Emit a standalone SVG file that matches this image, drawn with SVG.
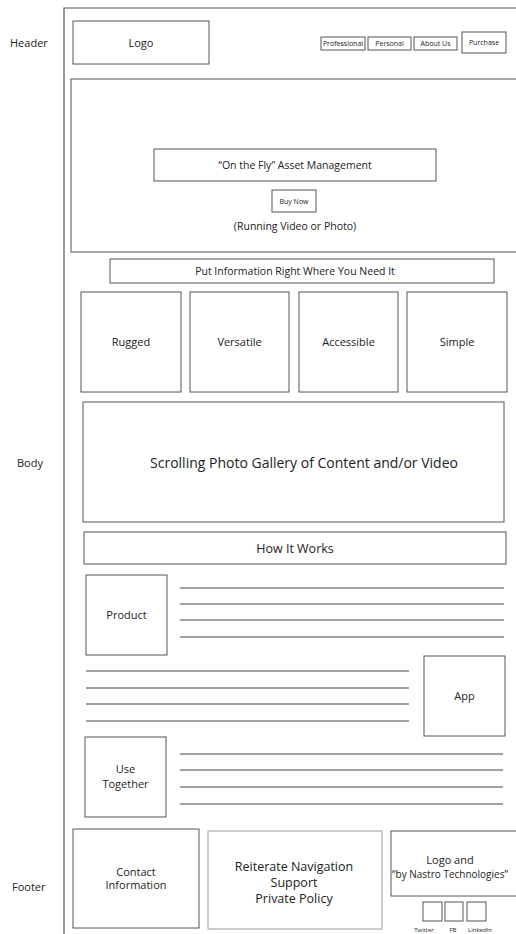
<svg xmlns="http://www.w3.org/2000/svg" width="516" height="934" viewBox="0 0 516 934">
<style>
  .box{fill:#fff;stroke:#555;stroke-width:1}
  .lt{stroke:#999}
  .ln{stroke:#444;stroke-width:1}
  text{font-family:"Open Sans","Liberation Sans",sans-serif;fill:#222;text-anchor:middle}
  .lbl{text-anchor:start;font-size:11px}
  .s12{font-size:11px}
  .s8{font-size:7px}
  .s6{font-size:6px}
</style>
<rect width="516" height="934" fill="#fff"/>
<g id="frame">
  <path d="M64,934 V8 H520" fill="none" stroke="#555" stroke-width="1.2"/>
</g>
<g id="labels">
  <text class="lbl" x="10" y="47">Header</text>
  <text class="lbl" x="17" y="467">Body</text>
  <text class="lbl" x="12" y="891">Footer</text>
</g>
<g id="logo"><rect class="box" x="73" y="21" width="136" height="43"/><text class="s12" x="141" y="47">Logo</text></g>
<g id="nav-professional"><rect class="box" x="321" y="37" width="44" height="13"/><text class="s8" x="343" y="46">Professional</text></g>
<g id="nav-personal"><rect class="box" x="368" y="37" width="43" height="13"/><text class="s8" x="389.5" y="46">Personal</text></g>
<g id="nav-about"><rect class="box" x="414" y="37" width="43" height="13"/><text class="s8" x="435.5" y="46">About Us</text></g>
<g id="nav-purchase"><rect class="box" x="462" y="32" width="44" height="21"/><text class="s8" x="484" y="45">Purchase</text></g>
<g id="hero">
  <rect class="box" x="71" y="79" width="450" height="173"/>
  <text x="295" y="230" style="font-size:10.5px">(Running Video or Photo)</text>
</g>
<g id="tagline"><rect class="box" x="154" y="149" width="282" height="32"/><text x="295" y="169" style="font-size:10.5px">“On the Fly” Asset Management</text></g>
<g id="buy-now"><rect class="box" x="272" y="190" width="44" height="22"/><text class="s8" x="294" y="204">Buy Now</text></g>
<g id="info"><rect class="box" x="110" y="259" width="384" height="24"/><text x="295" y="275" style="font-size:10.5px">Put Information Right Where You Need It</text></g>
<g id="rugged"><rect class="box" x="81" y="292" width="100" height="100"/><text class="s12" x="131" y="346">Rugged</text></g>
<g id="versatile"><rect class="box" x="190" y="292" width="99" height="100"/><text class="s12" x="239.5" y="346">Versatile</text></g>
<g id="accessible"><rect class="box" x="299" y="292" width="99" height="100"/><text class="s12" x="348.5" y="346">Accessible</text></g>
<g id="simple"><rect class="box" x="407" y="292" width="100" height="100"/><text class="s12" x="457" y="346">Simple</text></g>
<g id="gallery"><rect class="box" x="83" y="402" width="421" height="120"/><text x="304" y="468" style="font-size:14px">Scrolling Photo Gallery of Content and/or Video</text></g>
<g id="how"><rect class="box" x="84" y="532" width="422" height="32"/><text x="295" y="553" style="font-size:12.5px">How It Works</text></g>
<g id="product"><rect class="box" x="86" y="575" width="81" height="80"/><text class="s12" x="126.5" y="619">Product</text></g>
<g id="app"><rect class="box" x="424" y="656" width="81" height="80"/><text class="s12" x="464.5" y="700">App</text></g>
<g id="use-together"><rect class="box" x="85" y="737" width="81" height="80"/><text class="s12" x="125.5" y="773">Use</text><text class="s12" x="125.5" y="788">Together</text></g>
<g id="connectors">
  <path class="ln" d="M180,588H504M180,604H504M180,620H504M180,637H504"/>
  <path class="ln" d="M86,671H409M86,688H409M86,704H409M86,721H409"/>
  <path class="ln" d="M180,754H503M180,770H503M180,787H503M180,804H503"/>
</g>
<g id="contact"><rect class="box" x="73" y="829" width="126" height="99"/><text class="s12" x="136" y="875.5">Contact</text><text class="s12" x="136" y="889">Information</text></g>
<g id="reiterate"><rect class="box lt" x="208" y="831" width="174" height="98"/><text x="294" y="870.5" style="font-size:12.5px">Reiterate Navigation</text><text x="294" y="886.5" style="font-size:12.5px">Support</text><text x="294" y="902.5" style="font-size:12.5px">Private Policy</text></g>
<g id="footer-logo"><rect class="box" x="391" y="831" width="130" height="65"/><text class="s12" x="450" y="864">Logo and</text><text x="450" y="878" style="font-size:10px">“by Nastro Technologies”</text></g>
<g id="twitter"><rect class="box" x="423" y="902" width="19" height="19"/><text class="s6" x="424" y="932">Twitter</text></g>
<g id="fb"><rect class="box" x="445" y="902" width="18" height="19"/><text class="s6" x="453" y="932">FB</text></g>
<g id="linkedin"><rect class="box" x="467" y="902" width="19" height="19"/><text class="s6" x="480" y="932">LinkedIn</text></g>
</svg>
